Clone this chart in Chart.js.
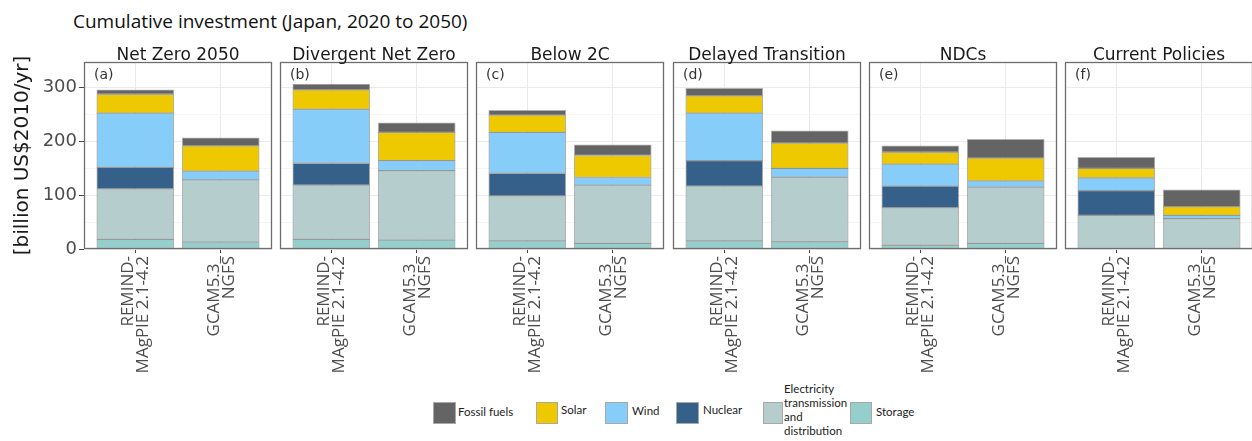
<!DOCTYPE html>
<html>
<head>
<meta charset="utf-8">
<script src="https://cdn.jsdelivr.net/npm/chart.js@4.4.1/dist/chart.umd.min.js"></script>
<style>
  html, body { margin: 0; padding: 0; background: #fff; }
  body { width: 1252px; height: 441px; position: relative; overflow: hidden; font-family: "Open Sans", sans-serif; }
  #title { position: absolute; left: 73px; top: 8px; font-size: 19px; color: #111; white-space: nowrap; }
  canvas { position: absolute; }
  .lg-box { position: absolute; box-sizing: border-box; border: 1px solid #a8a8a8; }
  .lg-txt { position: absolute; font-family: Lato, sans-serif; font-size: 11.5px; color: #222; line-height: 14px; white-space: nowrap; }
</style>
</head>
<body>
<div id="title">Cumulative investment (Japan, 2020 to 2050)</div>
<div id="legend"></div>
<script>
// Scenarios (one facet each) and models (two bars per facet)
const scenarios = ['Net Zero 2050', 'Divergent Net Zero', 'Below 2C', 'Delayed Transition', 'NDCs', 'Current Policies'];
const panelTags = ['(a)', '(b)', '(c)', '(d)', '(e)', '(f)'];
const models = [['REMIND-', 'MAgPIE 2.1-4.2'], ['GCAM5.3_', 'NGFS']];

// Investment by technology, billion US$2010/yr; [REMIND, GCAM] per scenario
const storage    = [[18, 13],   [18, 16.5],  [15, 10.5], [15, 13.5],  [7, 10.5],  [1, 1]];
const gridTD     = [[94, 115.5],[101, 129.5],[84, 108.5],[102, 120],  [70, 104.5],[61.7, 55.5]];
const nuclear    = [[40, 0],    [40.5, 0],   [42, 0],    [47.5, 0],   [40, 0],    [46, 0]];
const wind       = [[101, 16.5],[100.5, 18.5],[76, 14],  [88.5, 16.5],[41, 11.5], [23.4, 6.2]];
const solar      = [[35, 47],   [36, 52.5],  [32, 41],   [32, 47],    [22, 42.5], [18, 16.3]];
const fossil     = [[8, 15],    [10.7, 18],  [9, 20],    [14, 23],    [12, 35],   [20.7, 31]];

const yTicks = [0, 100, 200, 300];
const yMinor = [50, 150, 250];

// Stacking order, bottom to top
const series = [
  { label: 'Storage', values: storage, color: '#95cfcc' },
  { label: 'Electricity transmission and distribution', values: gridTD, color: '#b5cdcd' },
  { label: 'Nuclear', values: nuclear, color: '#346089' },
  { label: 'Wind', values: wind, color: '#87cdfa' },
  { label: 'Solar', values: solar, color: '#eec900' },
  { label: 'Fossil fuels', values: fossil, color: '#646464' }
];

// Facet frame: strip title above, tag inside, border around the plotting area
const facetDecor = {
  id: 'facetDecor',
  afterDraw(chart, args, opts) {
    const { ctx, chartArea: a } = chart;
    ctx.save();
    ctx.strokeStyle = '#6e6e6e';
    ctx.lineWidth = 1.3;
    ctx.strokeRect(a.left + 0.5, a.top + 0.5, a.right - a.left - 1, a.bottom - a.top - 1);
    ctx.fillStyle = '#1a1a1a';
    ctx.font = '17px "DejaVu Sans"';
    ctx.textAlign = 'center';
    ctx.textBaseline = 'alphabetic';
    ctx.fillText(opts.strip, (a.left + a.right) / 2, a.top - 2);
    ctx.fillStyle = '#333';
    ctx.font = '14px "DejaVu Sans"';
    ctx.textAlign = 'left';
    ctx.textBaseline = 'middle';
    ctx.fillText(opts.tag, a.left + 10, a.top + 13);
    ctx.restore();
  }
};

const panelW = 188;
const firstLeft = 84;
const pitch = 196.2;
const canvasTop = 36;
const canvasH = 360;

scenarios.forEach((name, i) => {
  const isFirst = i === 0;
  const axisW = isFirst ? 84 : 4;
  const panelLeft = Math.round(firstLeft + i * pitch);
  const cv = document.createElement('canvas');
  cv.width = axisW + panelW + 2;
  cv.height = canvasH;
  cv.style.left = (panelLeft - axisW) + 'px';
  cv.style.top = canvasTop + 'px';
  document.body.appendChild(cv);

  const datasets = series.map(s => ({
    label: s.label,
    data: s.values[i].map((v, k) => ({ x: k + 1, y: v })),
    backgroundColor: s.color,
    borderColor: 'rgba(80,80,80,0.45)',
    borderWidth: 1,
    borderSkipped: false,
    barThickness: 77
  }));

  new Chart(cv, {
    type: 'bar',
    data: { datasets },
    plugins: [facetDecor],
    options: {
      responsive: false,
      animation: false,
      devicePixelRatio: 1,
      layout: { padding: { top: 26, right: 2, left: 0, bottom: 0 } },
      plugins: {
        legend: { display: false },
        tooltip: { enabled: false },
        facetDecor: { strip: name, tag: panelTags[i] }
      },
      scales: {
        x: {
          type: 'linear',
          min: 0.4,
          max: 2.6,
          offset: false,
          stacked: true,
          afterBuildTicks: s => { s.ticks = [{ value: 1 }, { value: 2 }]; },
          afterFit: s => { s.height = canvasH - 26 - 187; },
          border: { display: false },
          grid: { offset: false, color: '#ebebeb', lineWidth: 1, tickColor: '#444', tickLength: 4 },
          ticks: {
            autoSkip: false,
            minRotation: 90,
            maxRotation: 90,
            padding: 3,
            labelOffset: -7,
            color: '#4d4d4d',
            font: { family: '"Open Sans"', size: 17, lineHeight: 0.9 },
            callback: v => models[Math.round(v) - 1]
          }
        },
        y: {
          min: 0,
          max: 348,
          stacked: true,
          afterBuildTicks: s => { s.ticks = yTicks.concat(yMinor).sort((p, q) => p - q).map(v => ({ value: v })); },
          afterFit: s => { s.width = axisW; },
          border: { display: false },
          grid: {
            color: c => (yMinor.includes(c.tick && c.tick.value) ? '#f5f5f5' : '#ebebeb'),
            tickColor: c => (isFirst && yTicks.includes(c.tick && c.tick.value) ? '#444' : 'rgba(0,0,0,0)'),
            drawTicks: isFirst,
            tickLength: 5
          },
          title: {
            display: isFirst,
            text: '[billion US$2010/yr]',
            color: '#1a1a1a',
            font: { family: '"DejaVu Sans"', size: 20, lineHeight: 1.2 },
            padding: { top: 11, bottom: 0 }
          },
          ticks: {
            display: isFirst,
            padding: 2,
            color: '#4d4d4d',
            font: { family: '"DejaVu Sans"', size: 18 },
            callback: v => (yTicks.includes(v) ? String(v) : '')
          }
        }
      }
    }
  });
});

// Legend along the bottom
const legendItems = [
  { s: 5, box: [433, 402, 23, 22], txt: [458, 405], text: 'Fossil fuels' },
  { s: 4, box: [536, 402, 22, 22], txt: [561, 403], text: 'Solar' },
  { s: 3, box: [605, 402, 23, 22], txt: [632, 404], text: 'Wind' },
  { s: 2, box: [676, 402, 23, 22], txt: [703, 403], text: 'Nuclear' },
  { s: 1, box: [763, 402, 20, 22], txt: [784, 382], text: 'Electricity<br>transmission<br>and<br>distribution' },
  { s: 0, box: [850, 402, 22, 22], txt: [876, 405], text: 'Storage' }
];
const lg = document.getElementById('legend');
legendItems.forEach(it => {
  const b = document.createElement('div');
  b.className = 'lg-box';
  b.style.left = it.box[0] + 'px';
  b.style.top = it.box[1] + 'px';
  b.style.width = it.box[2] + 'px';
  b.style.height = it.box[3] + 'px';
  b.style.background = series[it.s].color;
  lg.appendChild(b);
  const t = document.createElement('div');
  t.className = 'lg-txt';
  t.style.left = it.txt[0] + 'px';
  t.style.top = it.txt[1] + 'px';
  t.innerHTML = it.text;
  lg.appendChild(t);
});
</script>
</body>
</html>
